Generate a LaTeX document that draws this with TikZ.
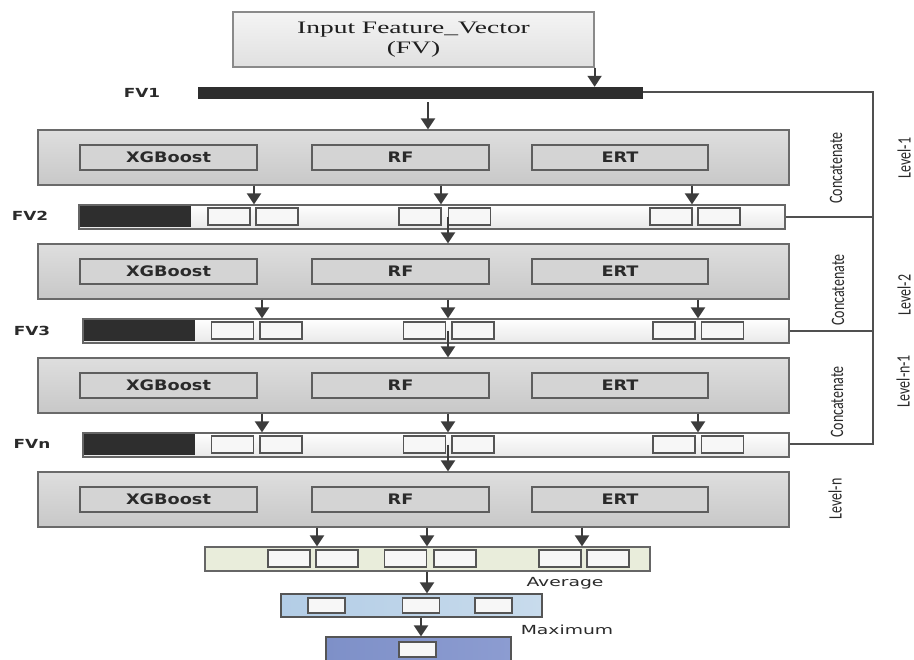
\documentclass[tikz,border=0pt]{standalone}
\usepackage{fontspec}
\setmainfont{Liberation Serif}
\newfontfamily\inpfont[FakeStretch=1.57]{Liberation Serif}
\newfontfamily\algfont[FakeStretch=1.22]{DejaVu Sans}
\newfontfamily\lblfont[FakeStretch=1.35]{DejaVu Sans}
\newfontfamily\aggfont[FakeStretch=1.5]{DejaVu Sans}
\newfontfamily\sidefont{Carlito}
\usetikzlibrary{arrows.meta,calc}
\definecolor{arrc}{HTML}{3C3C3C}
\definecolor{blkedge}{HTML}{6A6A6A}
\definecolor{blktop}{HTML}{DEDEDE}
\definecolor{blkbot}{HTML}{C8C8C8}
\definecolor{algedge}{HTML}{5E5E5E}
\definecolor{algfill}{HTML}{D4D4D4}
\definecolor{baredge}{HTML}{666666}
\definecolor{barbot}{HTML}{E8E8E8}
\definecolor{darkc}{HTML}{2E2E2E}
\definecolor{celledge}{HTML}{555555}
\definecolor{cellfill}{HTML}{F7F7F7}
\definecolor{txt}{HTML}{2A2A2A}
\definecolor{inptxt}{HTML}{1E1E1E}
\definecolor{inptop}{HTML}{F4F4F4}
\definecolor{inpbot}{HTML}{E0E0E0}
\definecolor{inpedge}{HTML}{8A8A8A}
\definecolor{avgfill}{HTML}{E9EDDB}
\definecolor{bluel}{HTML}{B3CDE6}
\definecolor{bluer}{HTML}{C8DBEC}
\definecolor{maxl}{HTML}{7E90C8}
\definecolor{maxr}{HTML}{8C9CD1}
\definecolor{railc}{HTML}{505050}
\tikzset{arrtip/.tip={Triangle[width=14pt 0 0,length=11pt 0 0]}}
\begin{document}
\begin{tikzpicture}[x=1pt,y=-1pt,
  arr/.style={draw=arrc, fill=arrc, line width=2pt, -arrtip},
  rail/.style={draw=railc, line width=1.6pt},
  inpbox/.style={draw=inpedge, line width=1.2pt, top color=inptop, bottom color=inpbot,
    minimum width=361pt, minimum height=55pt, inner sep=0pt, align=center,
    font=\inpfont\fontsize{17.5}{20.5}\selectfont, text=inptxt},
  blk/.style={draw=blkedge, line width=1.2pt, top color=blktop, bottom color=blkbot,
    minimum width=751pt, minimum height=55pt, inner sep=0pt},
  alg/.style={draw=algedge, line width=1.3pt, fill=algfill, minimum width=177pt,
    minimum height=25pt, inner sep=0pt, font=\algfont\bfseries\fontsize{14.5}{16}\selectfont, text=txt},
  fvbar/.style={draw=baredge, line width=1.2pt, top color=white, bottom color=barbot,
    minimum width=706pt, minimum height=24pt, inner sep=0pt},
  darkpart/.style={fill=darkc, draw=none, minimum width=111pt, minimum height=21pt, inner sep=0pt},
  cell/.style={draw=celledge, line width=1.1pt, fill=cellfill, minimum width=42pt,
    minimum height=17pt, inner sep=0pt},
  smallcell/.style={draw=celledge, line width=1.1pt, fill=cellfill, minimum width=37pt,
    minimum height=15pt, inner sep=0pt},
  fvlbl/.style={font=\lblfont\bfseries\fontsize{12.5}{14}\selectfont, text=txt},
  side/.style={font=\sidefont\fontsize{14}{16}\selectfont, text=txt, rotate=90, yscale=1.35, transform shape},
  agglbl/.style={font=\aggfont\fontsize{12.5}{14}\selectfont, text=txt}
]
\clip (0,0) rectangle (914,660);
\fill[white] (0,0) rectangle (914,660);

% input
\node[inpbox] (inp) at (413.5,39.5) {Input Feature\_Vector\\(FV)};
\node[fill=darkc, minimum width=445pt, minimum height=12pt, inner sep=0pt] (fv1) at (420.5,93) {};
\node[fvlbl] (fv1l) at (142,93) {FV1};
\draw[arr] (inp.south east) -- (inp.south east |- fv1.north);

% x positions
\coordinate (xa1) at (254,0);
\coordinate (xb1) at (441,0);
\coordinate (xc1) at (692,0);
\coordinate (xa2) at (262,0);
\coordinate (xb2) at (448,0);
\coordinate (xc2) at (698,0);
\coordinate (xmid) at (448,0);
\coordinate (xin) at (428,0);

% blocks
\foreach \i/\y in {1/157.5, 2/271.5, 3/385.5, 4/499.5}{
  \node[blk] (b\i) at (413.5,\y) {};
  \node[alg] (xg\i) at (168.5,\y) {XGBoost};
  \node[alg] (rf\i) at (400.5,\y) {RF};
  \node[alg, minimum width=176pt] (ert\i) at (620,\y) {ERT};
}

% FV bars
\node[fvbar] (fv2) at (432,217) {};
\node[darkpart] (d2) at (135.5,217) {};
\foreach \n/\x in {1/229,2/277,3/420,4/469.5,5/671,6/719}{
  \node[cell] (c2\n) at (\x,216.5) {};
}
\node[fvbar] (fv3) at (436,331) {};
\node[darkpart] (d3) at (139,331) {};
\foreach \n/\x in {1/232.5,2/281,3/424.5,4/473,5/674,6/722.5}{
  \node[cell] (c3\n) at (\x,330.5) {};
}
\node[fvbar] (fvn) at (436,445) {};
\node[darkpart] (dn) at (139,445) {};
\foreach \n/\x in {1/232.5,2/281,3/424.5,4/473,5/674,6/722.5}{
  \node[cell] (cn\n) at (\x,444.5) {};
}
\node[fvlbl] (fv2l) at (30,216) {FV2};
\node[fvlbl] (fv3l) at (32,331) {FV3};
\node[fvlbl] (fvnl) at (32,444) {FVn};

% arrows down
\draw[arr] ([yshift=-3pt]fv1.south -| xin) -- (b1.north -| xin);
\foreach \a in {xa1,xb1,xc1}{ \draw[arr] (b1.south -| \a) -- (fv2.north -| \a); }
\draw[arr] (fv2.center -| xmid) -- (b2.north -| xmid);
\foreach \a in {xa2,xb2,xc2}{ \draw[arr] (b2.south -| \a) -- (fv3.north -| \a); }
\draw[arr] (fv3.center -| xmid) -- (b3.north -| xmid);
\foreach \a in {xa2,xb2,xc2}{ \draw[arr] (b3.south -| \a) -- (fvn.north -| \a); }
\draw[arr] (fvn.center -| xmid) -- (b4.north -| xmid);

% rail
\coordinate (r1) at (873,92);
\coordinate (rn) at (873,444);
\draw[rail] (fv1.east |- r1) -- (r1) -- (rn) -- (fvn.east |- rn);
\draw[rail] (fv2.east) -- (fv2.east -| r1);
\draw[rail] (fv3.east) -- (fv3.east -| r1);

% side labels
\node[side] (cc1) at (836,168) {Concatenate};
\node[side] (cc2) at (838,290) {Concatenate};
\node[side] (cc3) at (837,402) {Concatenate};
\node[side] (lvn) at (835,499) {Level-n};
\node[side] (lv1) at (904,158) {Level-1};
\node[side] (lv2) at (904,295) {Level-2};
\node[side] (lv3) at (903,381) {Level-n-1};

% average
\node[draw=baredge, line width=1.2pt, fill=avgfill, minimum width=445pt, minimum height=24pt, inner sep=0pt] (avg) at (427.5,559) {};
\foreach \n/\x in {1/289,2/337,3/405.5,4/455,5/560,6/608}{
  \node[cell] (ca\n) at (\x,558.5) {};
}
\coordinate (xv1) at (317,0);
\coordinate (xv2) at (427,0);
\coordinate (xv3) at (582,0);
\foreach \a in {xv1,xv2,xv3}{ \draw[arr] (b4.south -| \a) -- (avg.north -| \a); }
\node[agglbl] (avgl) at (565,583) {Average};

% blue
\node[draw=celledge, line width=1.2pt, left color=bluel, right color=bluer, minimum width=261pt, minimum height=23pt, inner sep=0pt] (blue) at (411.5,605.5) {};
\foreach \n/\x in {1/326.5,2/421,3/493.5}{
  \node[smallcell] (cb\n) at (\x,605.5) {};
}
\draw[arr] (avg.south -| xv2) -- (blue.north -| xv2);
\node[agglbl] (maxl) at (567,630) {Maximum};

% max
\coordinate (xm) at (421,0);
\node[draw=celledge, line width=1.2pt, left color=maxl, right color=maxr, minimum width=185pt, minimum height=28pt, inner sep=0pt] (mx) at (418.5,651) {};
\node[smallcell] (cm) at (417.5,649.5) {};
\draw[arr] (blue.south -| xm) -- (mx.north -| xm);
\end{tikzpicture}
\end{document}
